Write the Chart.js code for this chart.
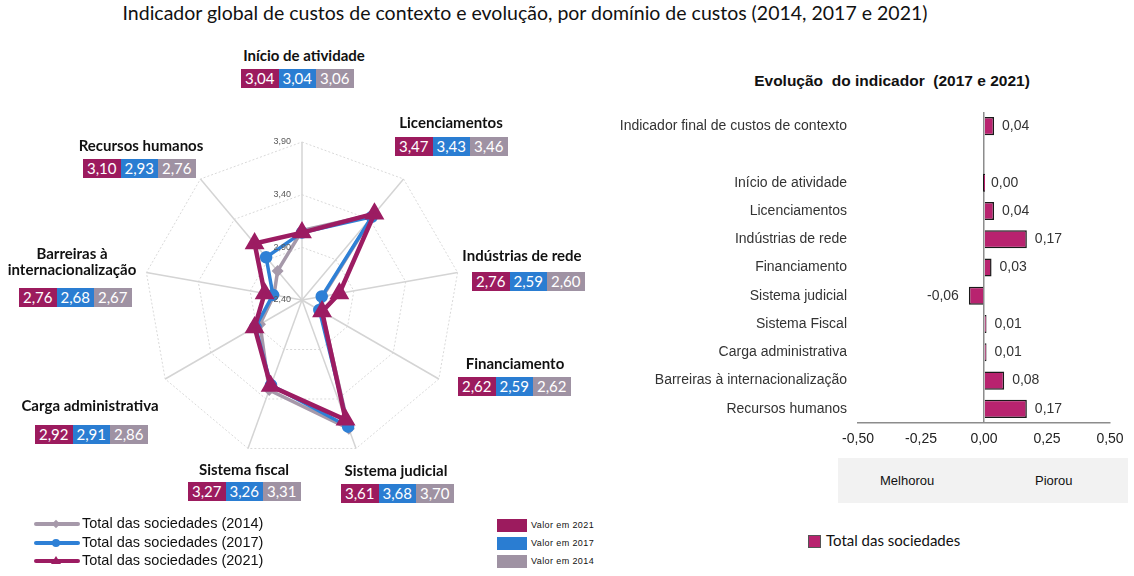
<!DOCTYPE html>
<html>
<head>
<meta charset="utf-8">
<script src="https://cdn.jsdelivr.net/npm/chart.js@4.4.0/dist/chart.umd.min.js"></script>
<style>
    body { margin: 0; width: 1134px; height: 576px; position: relative; background: #fff; overflow: hidden; font-family: Lato, "Open Sans", sans-serif; color: #111; }
    #title { position: absolute; left: 0; width: 1050px; top: 1px; text-align: center; font-size: 19.5px; }
    .lbl { position: absolute; font-weight: bold; font-size: 15px; text-align: center; white-space: nowrap; line-height: 16px; transform: translate(-50%, -50%); }
    .vbox { position: absolute; display: flex; height: 19px; }
    .vbox span { width: 37.5px; color: #fff; font-size: 15px; line-height: 19px; text-align: center; }
    #radarWrap { position: absolute; left: 132px; top: 130px; width: 340px; height: 340px; }
    #barWrap { position: absolute; left: 600px; top: 100px; width: 534px; height: 360px; }
    #barTitle { position: absolute; left: 690px; width: 404px; top: 72px; text-align: center; font: bold 15.5px "Liberation Sans", Arial, sans-serif; }
    #zone { position: absolute; left: 838px; top: 458px; width: 290px; height: 45px; background: #f2f2f2; font: 13px "Liberation Sans", Arial, sans-serif; }
    #zone span { position: absolute; top: 15px; }
    .leg { position: absolute; font: 14.5px "Liberation Sans", Arial, sans-serif; white-space: nowrap; }
    .sq { position: absolute; width: 30px; height: 13px; }
    .sqt { position: absolute; font: 9px "Liberation Sans", Arial, sans-serif; letter-spacing: 0.4px; }
</style>
</head>
<body>
<div id="title">Indicador global de custos de contexto e evolução, por domínio de custos (2014, 2017 e 2021)</div>
<div id="radarWrap"><canvas id="radarChart" width="340" height="340"></canvas></div>
<div id="barTitle">Evolução&nbsp; do indicador &nbsp;(2017 e 2021)</div>
<div id="barWrap"><canvas id="barChart" width="534" height="360"></canvas></div>
<div id="zone"><span style="left:42px">Melhorou</span><span style="left:197px">Piorou</span></div>
<div id="legends"></div>
<script>
// dados do radar (ordem dos eixos, no sentido dos ponteiros do relógio)
const domains = ['Início de atividade', 'Licenciamentos', 'Indústrias de rede', 'Financiamento', 'Sistema judicial',
    'Sistema fiscal', 'Carga administrativa', 'Barreiras à internacionalização', 'Recursos humanos'];
const values2014 = [3.06, 3.46, 2.60, 2.62, 3.70, 3.31, 2.86, 2.67, 2.76];
const values2017 = [3.04, 3.43, 2.59, 2.59, 3.68, 3.26, 2.91, 2.68, 2.93];
const values2021 = [3.04, 3.47, 2.76, 2.62, 3.61, 3.27, 2.92, 2.76, 3.10];
const radarTicks = [2.40, 2.90, 3.40, 3.90];

// dados do gráfico de barras
const barCategories = ['Indicador final de custos de contexto', '', 'Início de atividade', 'Licenciamentos', 'Indústrias de rede',
    'Financiamento', 'Sistema judicial', 'Sistema Fiscal', 'Carga administrativa', 'Barreiras à internacionalização', 'Recursos humanos'];
const barValues = [0.04, null, 0.00, 0.04, 0.17, 0.03, -0.06, 0.01, 0.01, 0.08, 0.17];
const barTicks = [-0.50, -0.25, 0.00, 0.25, 0.50];

const color2021 = '#9c1c62';
const color2017 = '#2e80d6';
const color2014 = '#a699aa';
const boxColors = ['#9c1b5e', '#2a7dd2', '#9f92a3'];

const fmt = v => v.toFixed(2).replace('.', ',');

// posição das etiquetas do radar: centro do texto e canto da caixa de valores
const labelPos = [
    { cx: 304, cy: 55, bx: 241, by: 69 },
    { cx: 451, cy: 122, bx: 395, by: 137 },
    { cx: 522, cy: 255, bx: 472, by: 272 },
    { cx: 515, cy: 363, bx: 458, by: 377 },
    { cx: 396, cy: 470, bx: 341, by: 484 },
    { cx: 244, cy: 469, bx: 188, by: 482 },
    { cx: 90, cy: 405, bx: 35, by: 425 },
    { cx: 72, cy: 261, bx: 19, by: 288 },
    { cx: 141, cy: 145, bx: 83, by: 159 }
];

const legendsEl = document.getElementById('legends');
domains.forEach((name, i) => {
    const p = labelPos[i];
    const lbl = document.createElement('div');
    lbl.className = 'lbl';
    lbl.style.left = p.cx + 'px';
    lbl.style.top = p.cy + 'px';
    lbl.innerHTML = name === 'Barreiras à internacionalização' ? 'Barreiras à<br>internacionalização' : name;
    legendsEl.appendChild(lbl);
    const box = document.createElement('div');
    box.className = 'vbox';
    box.style.left = p.bx + 'px';
    box.style.top = p.by + 'px';
    [values2021[i], values2017[i], values2014[i]].forEach((v, k) => {
        const s = document.createElement('span');
        s.style.background = boxColors[k];
        s.textContent = fmt(v);
        box.appendChild(s);
    });
    legendsEl.appendChild(box);
});

// legenda das linhas (em baixo à esquerda)
const lineLegend = [
    { text: 'Total das sociedades (2014)', color: color2014, marker: '<rect x="19" y="-3" width="6" height="6" transform="rotate(45 22 0)"/>' },
    { text: 'Total das sociedades (2017)', color: color2017, marker: '<circle cx="22" cy="0" r="4"/>' },
    { text: 'Total das sociedades (2021)', color: color2021, marker: '<polygon points="22,-5 27,3 17,3"/>' }
];
lineLegend.forEach((item, i) => {
    const y = 524 + i * 18.5;
    const svg = '<svg width="46" height="14" viewBox="0 -7 46 14" style="position:absolute;left:34px;top:' + (y - 7) + 'px">' +
        '<line x1="2" y1="0" x2="44" y2="0" stroke="' + item.color + '" stroke-width="4" stroke-linecap="round"/>' +
        '<g fill="' + item.color + '">' + item.marker + '</g></svg>';
    legendsEl.insertAdjacentHTML('beforeend', svg +
        '<div class="leg" style="left:82px;top:' + (y - 9) + 'px">' + item.text + '</div>');
});
['Valor em 2021', 'Valor em 2017', 'Valor em 2014'].forEach((t, i) => {
    const y = 519 + i * 18;
    legendsEl.insertAdjacentHTML('beforeend',
        '<div class="sq" style="left:497px;top:' + y + 'px;background:' + boxColors[i] + '"></div>' +
        '<div class="sqt" style="left:531px;top:' + (y + 1) + 'px">' + t + '</div>');
});
legendsEl.insertAdjacentHTML('beforeend',
    '<div class="sq" style="left:808px;top:535px;width:11px;height:11px;background:#b8236f;border:1px solid #555"></div>' +
    '<div class="leg" style="left:826px;top:531px;font-family:Lato,sans-serif;font-size:15px">Total das sociedades</div>');

// etiquetas do eixo radial, à esquerda do eixo vertical
const radarTickPlugin = {
    id: 'radarTicks',
    afterDraw(chart) {
        const scale = chart.scales.r;
        const ctx = chart.ctx;
        ctx.save();
        ctx.font = '9px "Liberation Sans", Arial, sans-serif';
        ctx.fillStyle = '#595959';
        ctx.textAlign = 'right';
        ctx.textBaseline = 'middle';
        radarTicks.forEach(t => {
            const d = scale.getDistanceFromCenterForValue(t);
            ctx.fillText(fmt(t), scale.xCenter - 11, scale.yCenter - d);
        });
        ctx.restore();
    }
};

new Chart(document.getElementById('radarChart'), {
    type: 'radar',
    data: {
        labels: domains,
        datasets: [
            { label: 'Total das sociedades (2014)', data: values2014, borderColor: color2014, backgroundColor: color2014,
              borderWidth: 3.5, pointStyle: 'rectRot', pointRadius: 3.5, fill: false, order: 2 },
            { label: 'Total das sociedades (2017)', data: values2017, borderColor: color2017, backgroundColor: color2017,
              borderWidth: 3.5, pointStyle: 'circle', pointRadius: 4.5, fill: false, order: 1 },
            { label: 'Total das sociedades (2021)', data: values2021, borderColor: color2021, backgroundColor: color2021,
              borderWidth: 4.5, pointStyle: 'triangle', pointRadius: 7, fill: false, order: 0 }
        ]
    },
    options: {
        responsive: false,
        animation: false,
        layout: { padding: 12, autoPadding: false },
        plugins: { legend: { display: false }, tooltip: { enabled: false } },
        elements: { line: { tension: 0 } },
        scales: {
            r: {
                min: 2.4,
                max: 3.9,
                ticks: { display: false, stepSize: 0.5 },
                pointLabels: { display: false },
                grid: { color: '#d9d9d9', lineWidth: 1 },
                border: { dash: [2, 2] },
                angleLines: { color: '#d4d4d4', lineWidth: 1.5 }
            }
        }
    },
    plugins: [radarTickPlugin]
});

// valores junto às barras
const barLabelPlugin = {
    id: 'barLabels',
    afterDatasetsDraw(chart) {
        const ctx = chart.ctx;
        const meta = chart.getDatasetMeta(0);
        ctx.save();
        ctx.font = '14px "Liberation Sans", Arial, sans-serif';
        ctx.fillStyle = '#333';
        ctx.textBaseline = 'middle';
        meta.data.forEach((bar, i) => {
            const v = barValues[i];
            if (v === null) return;
            if (v < 0) {
                ctx.textAlign = 'right';
                ctx.fillText(fmt(v), bar.x - 10, bar.y);
            } else {
                ctx.textAlign = 'left';
                ctx.fillText(fmt(v), bar.x + 8, bar.y);
            }
        });
        ctx.restore();
    }
};

new Chart(document.getElementById('barChart'), {
    type: 'bar',
    data: {
        labels: barCategories,
        datasets: [{
            label: 'Total das sociedades',
            data: barValues,
            backgroundColor: '#b8236f',
            borderColor: '#1a1a1a',
            borderWidth: 1.5,
            barPercentage: 0.64,
            categoryPercentage: 1,
            minBarLength: 2
        }]
    },
    options: {
        indexAxis: 'y',
        responsive: false,
        animation: false,
        layout: { padding: { top: 12, right: 24, left: 0, bottom: 0 } },
        plugins: { legend: { display: false }, tooltip: { enabled: false } },
        scales: {
            x: {
                min: barTicks[0],
                max: barTicks[barTicks.length - 1],
                afterBuildTicks: s => { s.ticks = barTicks.map(v => ({ value: v })); },
                ticks: { callback: v => fmt(v), color: '#222', font: { family: '"Liberation Sans", Arial, sans-serif', size: 14 }, padding: 8, maxRotation: 0 },
                grid: { color: c => (c.tick && c.tick.value === 0 ? '#8c8c8c' : 'transparent'), lineWidth: 1.5, drawTicks: false },
                border: { display: true, color: '#8c8c8c', width: 1.5 },
                afterFit: s => { s.height = 37; s.paddingLeft = 0; s.paddingRight = 0; }
            },
            y: {
                ticks: { color: '#333', font: { family: '"Liberation Sans", Arial, sans-serif', size: 14 }, padding: 11, autoSkip: false },
                grid: { display: false, drawTicks: false },
                border: { display: false },
                afterFit: s => { s.width = 258; s.paddingTop = 0; s.paddingBottom = 0; }
            }
        }
    },
    plugins: [barLabelPlugin]
});
</script>
</body>
</html>
